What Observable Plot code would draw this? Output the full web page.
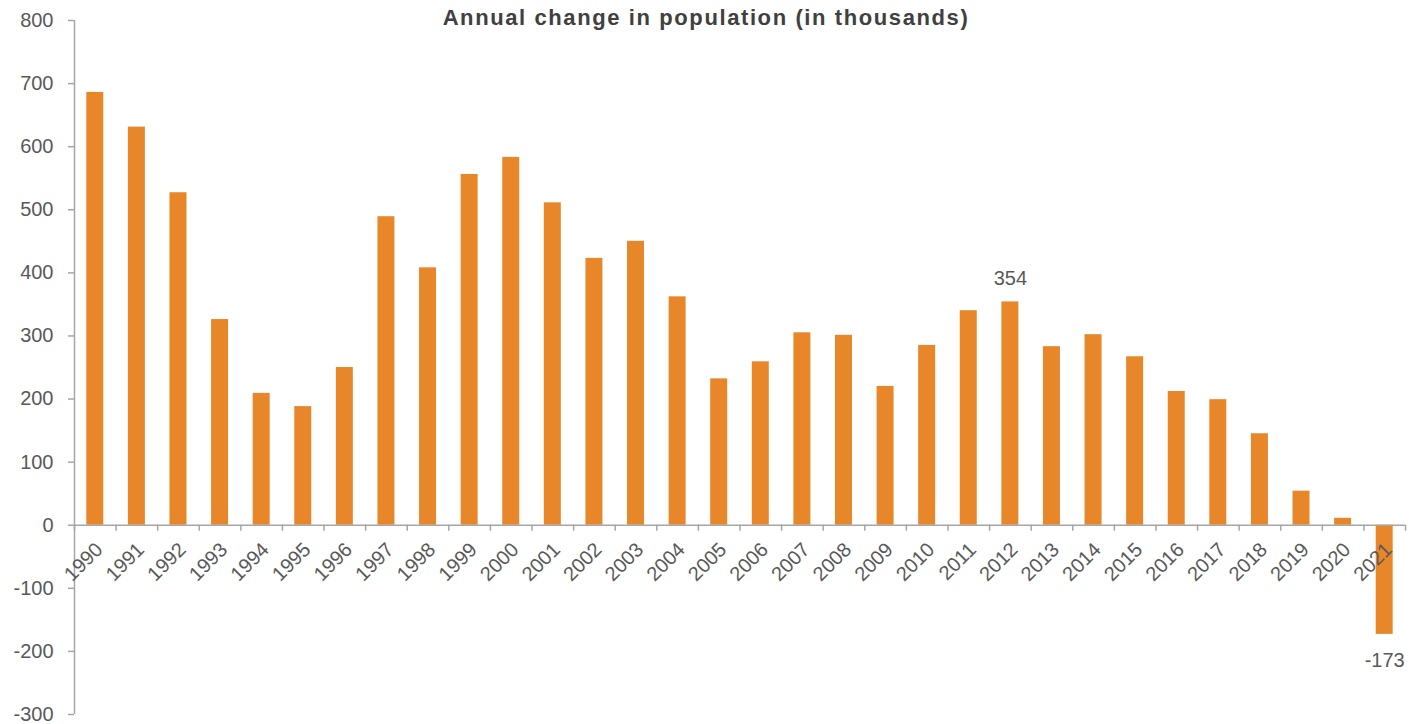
<!DOCTYPE html>
<html>
<head>
<meta charset="utf-8">
<script src="https://cdn.jsdelivr.net/npm/d3@7"></script>
<script src="https://cdn.jsdelivr.net/npm/@observablehq/plot@0.6"></script>
<style>
  html, body { margin: 0; padding: 0; background: #fff; }
  #wrap { position: relative; width: 1412px; height: 724px; font-family: "Liberation Sans", Arial, sans-serif; }
  #title { position: absolute; top: 5px; left: 0; width: 1412px; text-align: center; font-weight: bold; font-size: 22px; letter-spacing: 1.6px; color: #404040; }
  #chart { position: absolute; top: 0; left: 0; }
</style>
</head>
<body>
<div id="wrap">
  <div id="chart"></div>
  <div id="title">Annual change in population (in thousands)</div>
</div>
<script>
const years = [1990,1991,1992,1993,1994,1995,1996,1997,1998,1999,2000,2001,2002,2003,2004,2005,2006,2007,2008,2009,2010,2011,2012,2013,2014,2015,2016,2017,2018,2019,2020,2021];
const values = [686,631,527,326,209,188,250,489,408,556,583,511,423,450,362,232,259,305,301,220,285,340,354,283,302,267,212,199,145,54,11,-173];
const labeledYears = [2012, 2021];
const yTicks = [-300,-200,-100,0,100,200,300,400,500,600,700,800];

const data = years.map((year, i) => ({year, value: values[i]}));
const labeled = data.filter(d => labeledYears.includes(d.year));
const boundaries = years.concat([years[years.length - 1] + 1]);

const axisGray = "#a6a6a6";
const textGray = "#595959";
const orange = "#E8872A";

const chart = Plot.plot({
  width: 1412,
  height: 724,
  marginLeft: 74,
  marginRight: 7,
  marginTop: 20,
  marginBottom: 10,
  style: {fontFamily: "Liberation Sans, Arial, sans-serif", background: "#fff"},
  x: {domain: [1990, 2022], axis: null},
  y: {domain: [-300, 800], axis: null},
  marks: [
    Plot.rectY(data, {
      x1: "year",
      x2: d => d.year + 1,
      y: "value",
      fill: orange,
      insetLeft: 12.3,
      insetRight: 12.3
    }),
    Plot.axisY({
      ticks: yTicks,
      tickSize: 6,
      tickPadding: 15,
      tickFormat: d => String(d),
      label: null,
      stroke: axisGray,
      strokeWidth: 1.5,
      fill: textGray,
      fontSize: 20
    }),
    Plot.ruleX([1990], {stroke: axisGray, strokeWidth: 1.5}),
    Plot.ruleY([0], {stroke: axisGray, strokeWidth: 1.5}),
    Plot.ruleX(boundaries, {x: d => d, y1: 0, y2: 0, insetTop: 6, stroke: axisGray, strokeWidth: 1.5}),
    Plot.text(data, {
      x: d => d.year + 0.5,
      y: 0,
      text: d => String(d.year),
      rotate: -45,
      textAnchor: "end",
      lineAnchor: "middle",
      dx: 4,
      dy: 21,
      fontSize: 20,
      fill: textGray
    }),
    Plot.text(labeled, {
      x: d => d.year + 0.5,
      y: "value",
      text: d => String(d.value),
      lineAnchor: "middle",
      fontSize: 20,
      fill: textGray,
      filter: d => d.value >= 0,
      dy: -23
    }),
    Plot.text(labeled, {
      x: d => d.year + 0.5,
      y: "value",
      text: d => String(d.value),
      lineAnchor: "middle",
      fontSize: 20,
      fill: textGray,
      filter: d => d.value < 0,
      dy: 26
    })
  ]
});
document.getElementById("chart").appendChild(chart);
</script>
</body>
</html>
